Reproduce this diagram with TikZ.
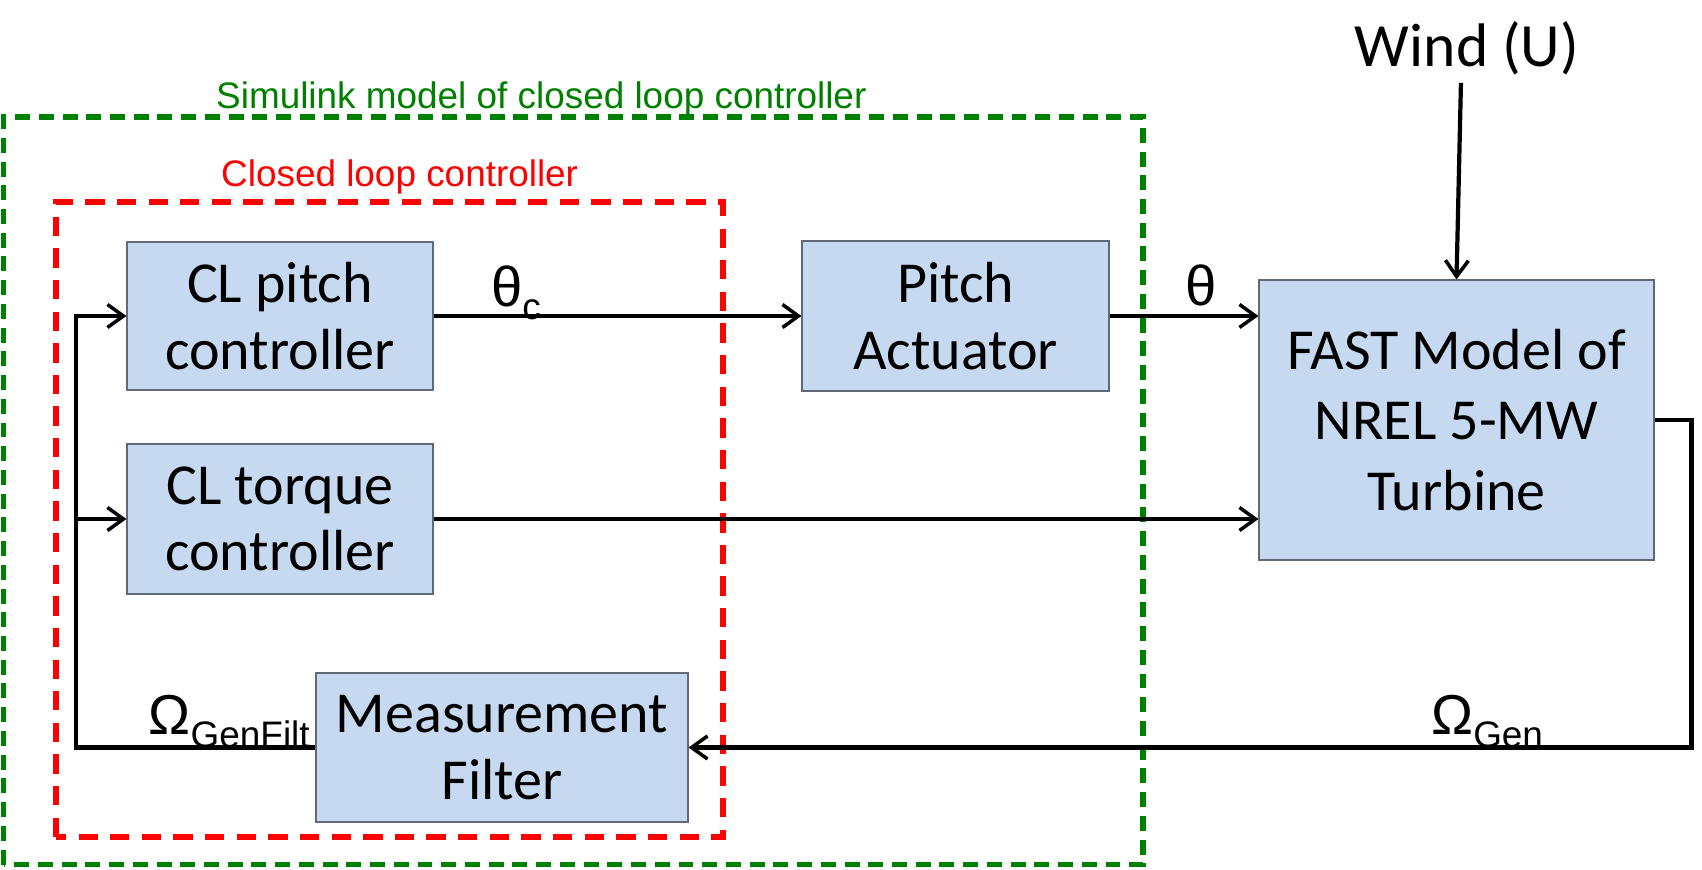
\documentclass[tikz,border=0pt]{standalone}
\usepackage{fontspec}
\setmainfont{Carlito}
\newfontfamily\labelfont{Liberation Sans}
\usepackage{xcolor}
\usepackage{tikz}
\usetikzlibrary{arrows.meta}
\definecolor{boxblue}{RGB}{198, 217, 240}
\definecolor{boxedge}{RGB}{95, 105, 120}
\definecolor{simgreen}{RGB}{0, 128, 0}
\definecolor{clred}{RGB}{255, 0, 0}

\begin{document}
\begin{tikzpicture}[
  block/.style={draw=boxedge, fill=boxblue, line width=0.6pt, align=center, font=\fontsize{33}{38}\selectfont},
  sig/.style={line width=2.4pt, -{Straight Barb[length=3.2mm, width=4.6mm, line width=2pt]}},
  wire/.style={line width=2.4pt},
  frame/.style={line width=3pt},
  greek/.style={anchor=base west, font=\labelfont\fontsize{32}{32}\selectfont}
]
\useasboundingbox (0,0) rectangle (34.04,17.38);

% Dashed frames
\draw[frame, simgreen, dash pattern=on 8.5pt off 5pt] (0.07,0.09) rectangle (22.86,15.04);
\draw[frame, clred, dash pattern=on 11pt off 7pt] (1.12,0.64) rectangle (14.46,13.34);
\node[anchor=base west, simgreen, font=\labelfont\fontsize{21}{21}\selectfont] (simlabel) at (4.2,15.21) {Simulink model of closed loop controller};
\node[anchor=base west, clred, font=\labelfont\fontsize{21}{21}\selectfont] (cllabel) at (4.3,13.64) {Closed loop controller};

% Blocks
\node[block, minimum width=6.12cm, minimum height=2.96cm] (pitch) at (5.6,11.06) {CL pitch\\controller};
\node[block, minimum width=6.12cm, minimum height=3.0cm] (torque) at (5.6,7.0) {CL torque\\controller};
\node[block, minimum width=7.44cm, minimum height=2.98cm] (meas) at (10.04,2.43) {Measurement\\Filter};
\node[block, minimum width=6.14cm, minimum height=3.0cm] (act) at (19.11,11.06) {Pitch\\Actuator};
\node[block, minimum width=7.9cm, minimum height=5.6cm, font=\fontsize{33}{40}\selectfont] (fast) at (29.13,8.98) {FAST Model of\\NREL 5-MW\\Turbine};
\node[anchor=base west, inner sep=4pt, font=\fontsize{35}{40}\selectfont] (wind) at (26.95,16.04) {Wind (U)};

% Signals
\draw[sig] (pitch.east) -- (act.west);
\draw[sig] (act.east) -- (act.east -| fast.west);
\draw[sig] (torque.east) -- (torque.east -| fast.west);
\draw[sig] ([xshift=-0.12cm]wind.south) -- (fast.north);
\draw[sig] (fast.east) -- ++(0.74,0) |- (meas.east);
\coordinate (split) at (1.52,7.0);
\draw[wire] (meas.west) -| (split);
\draw[sig] (split) |- (pitch.west);
\draw[sig] (split) -- (torque.west);

% Signal labels
\node[greek] (thetac) at (9.7,11.24) {θ\raisebox{-7pt}{\fontsize{21}{21}\selectfont c}};
\node[greek] (theta) at (23.58,11.26) {θ};
\node[greek] (omgen) at (28.5,2.68) {Ω\raisebox{-7pt}{\fontsize{21}{21}\selectfont Gen}};
\node[greek] (omfilt) at (2.85,2.68) {Ω\raisebox{-7pt}{\fontsize{21}{21}\selectfont GenFilt}};
\end{tikzpicture}
\end{document}
